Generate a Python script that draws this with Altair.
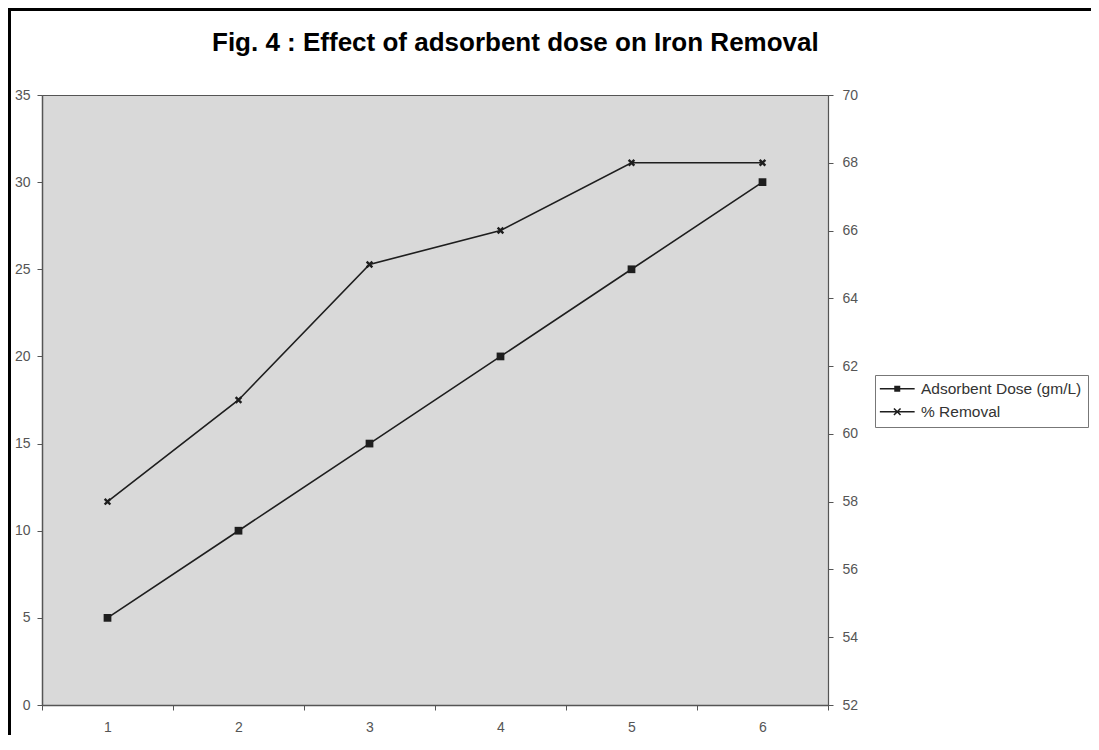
import altair as alt
import pandas as pd

# ---- data ----
x_vals = [1, 2, 3, 4, 5, 6]
dose = [5, 10, 15, 20, 25, 30]
removal = [58, 61, 65, 66, 68, 68]
series_names = ["Adsorbent Dose (gm/L)", "% Removal"]
title_text = "Fig. 4 : Effect of adsorbent dose on Iron Removal"

df = pd.DataFrame({"x": x_vals, "dose": dose, "removal": removal})
legend_df = pd.DataFrame({"series": series_names})

W, H = 786, 610
PAD = {"left": 34, "top": 87, "right": 263, "bottom": 30}
FONT = "Liberation Sans"
LINE_C = "#1e1e1e"
PLOT_BG = "#d9d9d9"

x_enc = alt.X(
    "x:O",
    bandPosition=0.5,
    scale=alt.Scale(type="band", paddingInner=0, paddingOuter=0),
    axis=alt.Axis(
        title=None, labelAngle=0, tickBand="extent", grid=False,
        domainColor="#555", domainWidth=1.5, tickColor="#555", tickSize=5,
        labelColor="#555", labelFont=FONT, labelFontSize=14, labelPadding=10,
    ),
)

y_left = alt.Y(
    "dose:Q",
    scale=alt.Scale(domain=[0, 35], nice=False, zero=False),
    axis=alt.Axis(
        title=None, orient="left", values=[0, 5, 10, 15, 20, 25, 30, 35], grid=False,
        domainColor="#555", domainWidth=1.5, tickColor="#555", tickSize=5,
        labelColor="#555", labelFont=FONT, labelFontSize=14, labelPadding=7,
    ),
)

y_right = alt.Y(
    "removal:Q",
    scale=alt.Scale(domain=[52, 70], nice=False, zero=False),
    axis=alt.Axis(
        title=None, orient="right", values=list(range(52, 71, 2)), grid=False,
        domainColor="#555", domainWidth=1.2, tickColor="#555", tickSize=5,
        labelColor="#555", labelFont=FONT, labelFontSize=14, labelPadding=9,
    ),
)

X_SYM = "M-0.5,-0.5L0.5,0.5M-0.5,0.5L0.5,-0.5"
# filled legend symbols: a thin bar (the line) plus the marker
LEG_SQ = "M-2.9,-0.12H2.9V0.12H-2.9Z M-0.5,-0.5H0.5V0.5H-0.5Z"
LEG_X = ("M-2.9,-0.12H2.9V0.12H-2.9Z "
         "M-0.46,-0.64L0.64,0.46L0.46,0.64L-0.64,-0.46Z "
         "M0.46,-0.64L0.64,-0.46L-0.46,0.64L-0.64,0.46Z")

base = alt.Chart(df)

dose_line = base.mark_line(color=LINE_C, strokeWidth=1.6).encode(x=x_enc, y=y_left)
dose_pts = base.mark_point(shape="square", filled=True, size=60, color=LINE_C, opacity=1).encode(
    x=x_enc, y=y_left
)
left = alt.layer(dose_line, dose_pts)

rem_line = base.mark_line(color=LINE_C, strokeWidth=1.6).encode(x=x_enc, y=y_right)
rem_pts = base.mark_point(shape=X_SYM, filled=False, size=130, color=LINE_C, strokeWidth=2.4, opacity=1).encode(
    x=x_enc, y=y_right
)
right = alt.layer(rem_line, rem_pts)

legend_layer = alt.Chart(legend_df).mark_point(
    opacity=0, filled=True, color=LINE_C
).encode(
    shape=alt.Shape(
        "series:N",
        scale=alt.Scale(domain=series_names, range=[LEG_SQ, LEG_X]),
        sort=series_names,
        legend=alt.Legend(
            title=None, orient="none", legendX=833, legendY=280,
            padding=6, strokeColor="#777", fillColor="white",
            symbolSize=144, symbolOpacity=1, symbolStrokeWidth=0,
            symbolFillColor=LINE_C,
            symbolOffset=8.5, labelOffset=16, rowPadding=6, labelLimit=300,
            labelFont=FONT, labelFontSize=15.5, labelColor="#333",
        ),
    )
)

frame_df = pd.DataFrame({"k": [0]})
frame_top = alt.Chart(frame_df).mark_rule(color="black", strokeWidth=3).encode(
    x=alt.value(-34), x2=alt.value(W + PAD["right"]), y=alt.value(-85.5)
)
frame_left = alt.Chart(frame_df).mark_rule(color="black", strokeWidth=3).encode(
    x=alt.value(-32.5), y=alt.value(-87), y2=alt.value(H + PAD["bottom"])
)

chart = (
    alt.layer(left, right, legend_layer, frame_top, frame_left)
    .resolve_scale(y="independent")
    .properties(
        width=W,
        height=H,
        autosize=alt.AutoSizeParams(type="none"),
        padding=PAD,
        background="white",
        view=alt.ViewBackground(fill=PLOT_BG, stroke="#555", strokeWidth=1),
        title=alt.Title(
            title_text, font=FONT, fontSize=26, fontWeight="bold", color="black",
            anchor="start", frame="group", dx=170, dy=113, offset=43, baseline="alphabetic",
        ),
    )
    .configure_view(fill=PLOT_BG, stroke="#555", strokeWidth=1)
)

chart.save("out.html", embed_options={"renderer": "svg", "actions": False})
